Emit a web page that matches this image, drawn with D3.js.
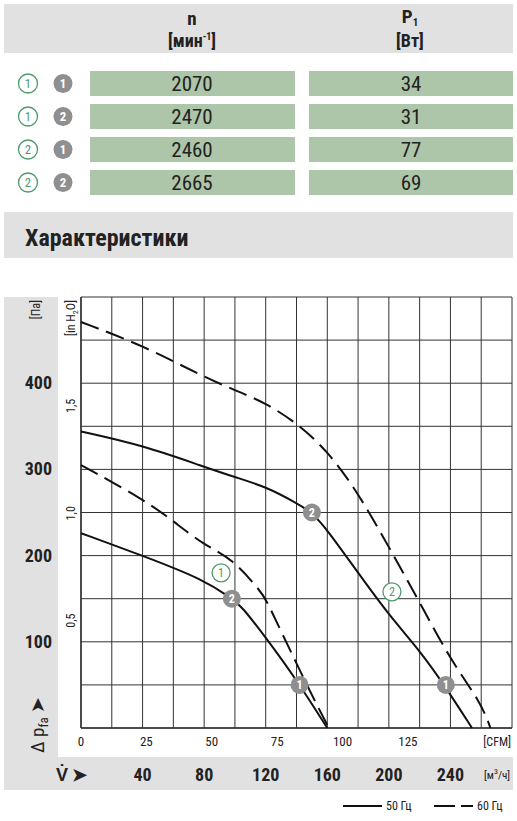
<!DOCTYPE html>
<html><head><meta charset="utf-8">
<script src="https://cdn.jsdelivr.net/npm/d3@7"></script>
<style>body{margin:0;background:#fff}text{font-family:"Liberation Sans Narrow","Roboto Condensed",Roboto,sans-serif;fill:#222}</style>
</head><body>
<svg id="c" width="517" height="821"></svg>
<script>
// table
const rows = [[1, 1], [1, 2], [2, 1], [2, 2]]
const speeds = [2070, 2470, 2460, 2665]
const powers = [34, 31, 77, 69]

// curves: [m3/h, Pa]
const curve50a = [[0,226],[40,200],[80,172],[98,150],[104,142],[120,105],[140,56],[160,0]]
const curve60a = [[0,305],[40,266],[60,240],[80,212],[98,197],[116,160],[120,150],[130,112],[140,75],[150,38],[161,0]]
const curve50b = [[0,344],[40,328],[80,303],[100,291],[120,280],[140,261],[150,250],[160,230],[180,180],[200,131],[220,90],[236,50],[254,0]]
const curve60b = [[0,471],[40,444],[80,407],[100,392],[120,377],[140,354],[160,322],[180,273],[200,210],[220,146],[240,79],[260,29],[266,0]]
const cfmTicks = [0, 25, 50, 75, 100, 125]
const m3hTicks = [40, 80, 120, 160, 200, 240]
const paTicks = [100, 200, 300, 400]
const inTicks = [0.5, 1.0, 1.5]
// markers: [m3/h, Pa, label, kind]
const markers = [[98,150,'2','g'],[142,50,'1','g'],[150,250,'2','g'],[237,50,'1','g'],[91,180,'1','o'],[202,158,'2','o']]

const svg = d3.select('#c')
const grey = '#e1e1e1', green = '#adc5a8', mark = '#8f8f8f', okGreen = '#4f9a6a'

svg.append('rect').attr('x', 4).attr('y', 4).attr('width', 509).attr('height', 49).attr('fill', grey)
svg.append('text').attr('x', 192).attr('y', 25).attr('text-anchor', 'middle').attr('font-size', 19).attr('font-weight', 'bold').text('n')
svg.append('text').attr('x', 192).attr('y', 47).attr('text-anchor', 'middle').attr('font-size', 18).attr('font-weight', 'bold')
  .html('[мин<tspan dy="-7" font-size="10">-1</tspan><tspan dy="7">]</tspan>')
svg.append('text').attr('x', 410).attr('y', 23).attr('text-anchor', 'middle').attr('font-size', 19).attr('font-weight', 'bold')
  .html('P<tspan dy="3" font-size="11">1</tspan>')
svg.append('text').attr('x', 410).attr('y', 47).attr('text-anchor', 'middle').attr('font-size', 18).attr('font-weight', 'bold').text('[Вт]')

const badge = (g, x, y, label, kind, r) => {
  g.append('circle').attr('cx', x).attr('cy', y).attr('r', r)
    .attr('fill', kind === 'g' ? mark : '#fff').attr('stroke', kind === 'g' ? 'none' : okGreen).attr('stroke-width', 1.3)
  g.append('text').attr('x', x).attr('y', y + r * 0.45).attr('text-anchor', 'middle').attr('font-size', r * 1.35)
    .attr('font-weight', kind === 'g' ? 'bold' : 'normal')
    .style('fill', kind === 'g' ? '#fff' : okGreen).text(label)
}

rows.forEach((r, i) => {
  const y = 71 + i * 33
  badge(svg, 28, y + 12.5, r[0], 'o', 9.5)
  badge(svg, 63, y + 12.5, r[1], 'g', 9.5)
  svg.append('rect').attr('x', 90).attr('y', y).attr('width', 205).attr('height', 25).attr('fill', green)
  svg.append('rect').attr('x', 309).attr('y', y).attr('width', 204).attr('height', 25).attr('fill', green)
  svg.append('text').attr('x', 192).attr('y', y + 20).attr('text-anchor', 'middle').attr('font-size', 21).text(speeds[i])
  svg.append('text').attr('x', 411).attr('y', y + 20).attr('text-anchor', 'middle').attr('font-size', 21).text(powers[i])
})

svg.append('rect').attr('x', 4).attr('y', 212).attr('width', 509).attr('height', 46).attr('fill', grey)
svg.append('text').attr('x', 25).attr('y', 246).attr('font-size', 24).attr('font-weight', 'bold').text('Характеристики')

// chart frame
svg.append('rect').attr('x', 4).attr('y', 297).attr('width', 54).attr('height', 493).attr('fill', grey)
svg.append('rect').attr('x', 4).attr('y', 757).attr('width', 509).attr('height', 33).attr('fill', grey)

const x = d3.scaleLinear().domain([0, 280]).range([81, 512])
const y = d3.scaleLinear().domain([0, 500]).range([728, 297])
const cfm = d3.scaleLinear().domain([0, 280 / 1.699]).range([81, 512])
const inH = d3.scaleLinear().domain([0, 500 / 249.09]).range([728, 297])

const grid = svg.append('g').attr('stroke', '#333').attr('stroke-width', 1)
d3.range(0, 281, 20).forEach(v => grid.append('line').attr('x1', x(v)).attr('x2', x(v)).attr('y1', 297).attr('y2', 728))
d3.range(0, 501, 50).forEach(v => grid.append('line').attr('y1', y(v)).attr('y2', y(v)).attr('x1', 81).attr('x2', 512))
grid.append('line').attr('x1', 81).attr('x2', 81).attr('y1', 297).attr('y2', 728).attr('stroke-width', 1.5)
grid.append('line').attr('x1', 81).attr('x2', 512).attr('y1', 728).attr('y2', 728).attr('stroke-width', 1.5)

const line = d3.line().x(d => x(d[0])).y(d => y(d[1])).curve(d3.curveBasis)
const curves = [[curve50a, false], [curve60a, true], [curve50b, false], [curve60b, true]]
curves.forEach(([c, dashed]) => {
  svg.append('path').attr('d', line(c)).attr('fill', 'none').attr('stroke', '#111').attr('stroke-width', 2)
    .attr('stroke-dasharray', dashed ? '19,8' : null)
})
markers.forEach(m => badge(svg, x(m[0]), y(m[1]), m[2], m[3], 9))

// axes labels
cfmTicks.forEach(v => svg.append('text').attr('x', cfm(v)).attr('y', 746).attr('text-anchor', 'middle').attr('font-size', 13).text(v))
svg.append('text').attr('x', 511).attr('y', 746).attr('text-anchor', 'end').attr('font-size', 12).text('[CFM]')
m3hTicks.forEach(v => svg.append('text').attr('x', x(v)).attr('y', 781).attr('text-anchor', 'middle').attr('font-size', 18).attr('font-weight', 'bold').text(v))
svg.append('text').attr('x', 510).attr('y', 779).attr('text-anchor', 'end').attr('font-size', 11)
  .html('[м<tspan dy="-5" font-size="8">3</tspan><tspan dy="5">/ч]</tspan>')
svg.append('text').attr('x', 56).attr('y', 781).attr('font-size', 18).attr('font-weight', 'bold').text('V̇ ➤')
paTicks.forEach(v => svg.append('text').attr('x', 52).attr('y', y(v) + 6).attr('text-anchor', 'end').attr('font-size', 18).attr('font-weight', 'bold').text(v))
svg.append('text').attr('transform', 'translate(40,300) rotate(-90)').attr('text-anchor', 'end').attr('font-size', 12).text('[Па]')
svg.append('text').attr('transform', 'translate(44,753) rotate(-90)').attr('font-size', 19)
  .html('Δ p<tspan dy="4" font-size="13">fa</tspan><tspan dy="-4"> ➤</tspan>')
inTicks.forEach(v => svg.append('text').attr('transform', `translate(75,${inH(v)}) rotate(-90)`).attr('text-anchor', 'middle').attr('font-size', 12).text(d3.format('.1f')(v).replace('.', ',')))
svg.append('text').attr('transform', 'translate(75,300) rotate(-90)').attr('text-anchor', 'end').attr('font-size', 12)
  .html('[in H<tspan dy="3" font-size="8">2</tspan><tspan dy="-3">O]</tspan>')

// legend
svg.append('line').attr('x1', 343).attr('x2', 382).attr('y1', 806).attr('y2', 806).attr('stroke', '#111').attr('stroke-width', 2)
svg.append('text').attr('x', 386).attr('y', 810).attr('font-size', 12).text('50 Гц')
svg.append('line').attr('x1', 434).attr('x2', 473).attr('y1', 806).attr('y2', 806).attr('stroke', '#111').attr('stroke-width', 2).attr('stroke-dasharray', '21,6')
svg.append('text').attr('x', 477).attr('y', 810).attr('font-size', 12).text('60 Гц')
</script>
</body></html>
